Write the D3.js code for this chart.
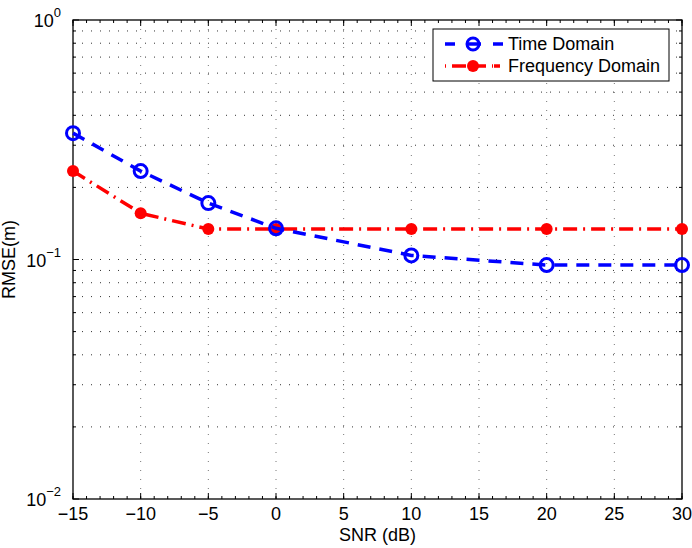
<!DOCTYPE html>
<html>
<head>
<meta charset="utf-8">
<script src="https://cdn.jsdelivr.net/npm/d3@7"></script>
<style>
  body { margin: 0; background: #fff; }
  text { font-family: "Liberation Sans", Arial, sans-serif; fill: #000; }
</style>
</head>
<body>
<div id="chart"></div>
<script>
var snr = [-15, -10, -5, 0, 10, 20, 30];
var timeDomain = [0.337, 0.234, 0.172, 0.135, 0.104, 0.0948, 0.0948];
var freqDomain = [0.234, 0.156, 0.134, 0.134, 0.134, 0.134, 0.134];
var xTicks = [-15, -10, -5, 0, 5, 10, 15, 20, 25, 30];
var yDecades = [0.01, 0.1, 1];

var W = 692, H = 548;
var m = {t: 20, r: 10, b: 49, l: 73};
var w = W - m.l - m.r, h = H - m.t - m.b;

var svg = d3.select("#chart").append("svg")
    .attr("width", W).attr("height", H);
var g = svg.append("g").attr("transform", "translate(" + m.l + "," + m.t + ")");

var x = d3.scaleLinear().domain([-15, 30]).range([0, w]);
var y = d3.scaleLog().domain([0.01, 1]).range([h, 0]);

// minor log values 2..9 per decade
var yMinor = [];
[0.01, 0.1].forEach(function(d){
    for (var k = 2; k <= 9; k++) yMinor.push(d * k);
});

// grid
var grid = g.append("g").attr("stroke-width", 1).attr("stroke-dasharray", "1,8");
grid.selectAll(".gx").data(xTicks.slice(1, -1)).enter().append("line")
    .attr("x1", function(d){ return x(d); }).attr("x2", function(d){ return x(d); })
    .attr("y1", 0).attr("y2", h).attr("stroke", "#777");
grid.selectAll(".gy").data(yMinor.concat([0.1])).enter().append("line")
    .attr("y1", function(d){ return y(d); }).attr("y2", function(d){ return y(d); })
    .attr("x1", 0).attr("x2", w).attr("stroke", "#333");

// ticks on all sides
var tk = g.append("g").attr("stroke", "#000").attr("stroke-width", 1);
xTicks.forEach(function(d){
    tk.append("line").attr("x1", x(d)).attr("x2", x(d)).attr("y1", h).attr("y2", h - 6);
    tk.append("line").attr("x1", x(d)).attr("x2", x(d)).attr("y1", 0).attr("y2", 6);
});
d3.range(-15, 31, 1).forEach(function(d){
    tk.append("line").attr("x1", x(d)).attr("x2", x(d)).attr("y1", h).attr("y2", h - 3);
    tk.append("line").attr("x1", x(d)).attr("x2", x(d)).attr("y1", 0).attr("y2", 3);
});
yDecades.forEach(function(d){
    tk.append("line").attr("x1", 0).attr("x2", 6).attr("y1", y(d)).attr("y2", y(d));
    tk.append("line").attr("x1", w).attr("x2", w - 6).attr("y1", y(d)).attr("y2", y(d));
});
yMinor.forEach(function(d){
    tk.append("line").attr("x1", 0).attr("x2", 3).attr("y1", y(d)).attr("y2", y(d));
    tk.append("line").attr("x1", w).attr("x2", w - 3).attr("y1", y(d)).attr("y2", y(d));
});

// frame
g.append("rect").attr("width", w).attr("height", h)
    .attr("fill", "none").attr("stroke", "#000").attr("stroke-width", 1.3);

// x tick labels
g.selectAll(".xl").data(xTicks).enter().append("text")
    .attr("x", function(d){ return x(d); }).attr("y", h + 21)
    .attr("text-anchor", "middle").style("font-size", "18px")
    .text(function(d){ return d < 0 ? "\u2212" + Math.abs(d) : d; });

// y tick labels 10^n
yDecades.forEach(function(d){
    var e = Math.round(Math.log10(d));
    var t = g.append("text").attr("x", -12).attr("y", y(d) + 7)
        .attr("text-anchor", "end").style("font-size", "18px");
    t.append("tspan").text("10");
    t.append("tspan").attr("dy", -10).style("font-size", "13px")
        .text(e < 0 ? "\u2212" + Math.abs(e) : e);
});

// axis titles
g.append("text").attr("x", w / 2).attr("y", h + 42)
    .attr("text-anchor", "middle").style("font-size", "18px").text("SNR (dB)");
g.append("text").attr("transform", "translate(" + (-58) + "," + (h / 2) + ") rotate(-90)")
    .attr("text-anchor", "middle").style("font-size", "18px").text("RMSE(m)");

// series
var line = d3.line().x(function(d){ return x(d[0]); }).y(function(d){ return y(d[1]); });
var tdData = snr.map(function(s, i){ return [s, timeDomain[i]]; });
var fdData = snr.map(function(s, i){ return [s, freqDomain[i]]; });

var plot = g.append("g");
plot.append("path").datum(fdData).attr("d", line).attr("fill", "none")
    .attr("stroke", "#ff0000").attr("stroke-width", 3.5)
    .attr("stroke-dasharray", "14,6,2,6");
plot.selectAll(".fd").data(fdData).enter().append("circle")
    .attr("cx", function(d){ return x(d[0]); }).attr("cy", function(d){ return y(d[1]); })
    .attr("r", 6).attr("fill", "#ff0000");

plot.append("path").datum(tdData).attr("d", line).attr("fill", "none")
    .attr("stroke", "#0000ff").attr("stroke-width", 3.5)
    .attr("stroke-dasharray", "13,9");
plot.selectAll(".td").data(tdData).enter().append("circle")
    .attr("cx", function(d){ return x(d[0]); }).attr("cy", function(d){ return y(d[1]); })
    .attr("r", 6.5).attr("fill", "none").attr("stroke", "#0000ff").attr("stroke-width", 3);

// legend
var lg = svg.append("g").attr("transform", "translate(433,29)");
lg.append("rect").attr("width", 236).attr("height", 52)
    .attr("fill", "#fff").attr("stroke", "#000").attr("stroke-width", 1);
lg.append("line").attr("x1", 12).attr("x2", 70).attr("y1", 15).attr("y2", 15)
    .attr("stroke", "#0000ff").attr("stroke-width", 3.5).attr("stroke-dasharray", "10,12,14,12,10");
lg.append("circle").attr("cx", 40).attr("cy", 15).attr("r", 6)
    .attr("fill", "none").attr("stroke", "#0000ff").attr("stroke-width", 3);
lg.append("line").attr("x1", 12).attr("x2", 70).attr("y1", 37).attr("y2", 37)
    .attr("stroke", "#ff0000").attr("stroke-width", 3.5).attr("stroke-dasharray", "1,6,14,6,14,6,1");
lg.append("circle").attr("cx", 40).attr("cy", 37).attr("r", 6).attr("fill", "#ff0000");
lg.append("text").attr("x", 75).attr("y", 21).style("font-size", "18px").text("Time Domain");
lg.append("text").attr("x", 75).attr("y", 43).style("font-size", "18px").text("Frequency Domain");
</script>
</body>
</html>
